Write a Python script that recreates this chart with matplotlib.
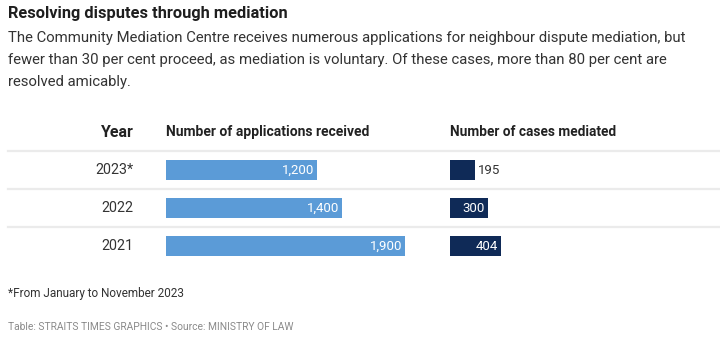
import matplotlib.pyplot as plt
from matplotlib.lines import Line2D

years = ["2023*", "2022", "2021"]
applications = [1200, 1400, 1900]
mediated = [195, 300, 404]

W, H = 720, 348
plt.rcParams["font.family"] = ["Roboto", "DejaVu Sans"]

LIGHT = "#5b9bd7"
NAVY = "#0f2a57"

fig = plt.figure(figsize=(W / 100, H / 100), dpi=100)


def fx(px):
    return px / W


def fy(py):
    return 1 - py / H


# heading block
fig.text(fx(8), fy(18), "Resolving disputes through mediation", fontsize=11.8,
         fontweight="bold", color="#1e1e1e", va="baseline")
sub = ["The Community Mediation Centre receives numerous applications for neighbour dispute mediation, but",
       "fewer than 30 per cent proceed, as mediation is voluntary. Of these cases, more than 80 per cent are",
       "resolved amicably."]
for i, line in enumerate(sub):
    fig.text(fx(8), fy(42 + 22 * i), line, fontsize=10.7, color="#333333", va="baseline")

# column headers
fig.text(fx(134), fy(137), "Year", fontsize=11.5, fontweight="bold", color="#222222",
         ha="right", va="baseline")
fig.text(fx(166), fy(136), "Number of applications received", fontsize=10,
         fontweight="bold", color="#222222", va="baseline")
fig.text(fx(450), fy(136), "Number of cases mediated", fontsize=9.8,
         fontweight="bold", color="#222222", va="baseline")

# row dividers
for py in [151, 189, 227]:
    fig.add_artist(Line2D([fx(8), 1], [fy(py), fy(py)], color="#ebebeb", lw=1.6))

# bar panels share the same value scale
scale = 239 / 1900  # px per case
panel_w = 260
xmax = panel_w / scale
bottom, top = 265, 151


def panel(left_px, values, color, threshold):
    ax = fig.add_axes([fx(left_px), fy(bottom), fx(panel_w), (bottom - top) / H])
    ypos = list(range(len(values)))
    ax.barh(ypos, values, height=20 / 38, color=color)
    ax.set_xlim(0, xmax)
    ax.set_ylim(len(values) - 0.5, -0.5)
    ax.axis("off")
    for y, v in zip(ypos, values):
        label = f"{v:,}"
        if v >= threshold:
            ax.text(v - 3 / scale, y, label, ha="right", va="center",
                    fontsize=9.5, color="white")
        else:
            ax.text(v + 3.5 / scale, y, label, ha="left", va="center",
                    fontsize=9.5, color="#333333")
    return ax


ax1 = panel(166, applications, LIGHT, 0)
ax2 = panel(450, mediated, NAVY, 250)

# year labels
for y, yr in zip(range(len(years)), years):
    ax1.text(-33 / scale, y, yr, ha="right", va="center", fontsize=10.3,
             color="#333333")

# notes
fig.text(fx(8), fy(297), "*From January to November 2023", fontsize=8.5,
         color="#333333", va="baseline")
fig.text(fx(8), fy(330), "Table: STRAITS TIMES GRAPHICS \u2022 Source: MINISTRY OF LAW",
         fontsize=7.4, color="#8a8a8a", va="baseline")

fig.savefig("out.png", dpi=100)
